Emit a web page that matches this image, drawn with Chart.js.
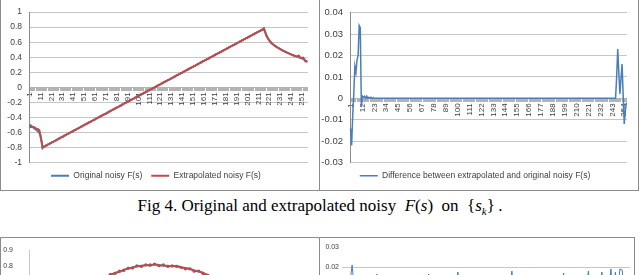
<!DOCTYPE html>
<html lang="en">
<head>
<meta charset="UTF-8">
<title>Fig 4</title>
<script src="https://cdn.jsdelivr.net/npm/chart.js"></script>
<style>
  html, body { margin: 0; padding: 0; background: #fff; width: 640px; height: 275px; overflow: hidden; }
  .panel { position: absolute; border-color: #8c8c8c; border-style: solid; border-width: 0; background: #fff; }
  .panel canvas { display: block; }
  #caption { position: absolute; left: 0; top: 196px; width: 640px; text-align: center;
    font: 17px "Liberation Serif", "Times New Roman", serif; color: #000; line-height: 19px; }
  #caption sub { font-size: 11px; }
</style>
</head>
<body>
  <div class="panel" style="left:0;top:0;width:318px;height:190px;border-left-width:1px;border-right-width:1px;border-bottom-width:1px;">
    <canvas id="topLeft" width="318" height="190"></canvas>
  </div>
  <div class="panel" style="left:320px;top:0;width:318px;height:190px;border-right-width:1px;border-bottom-width:1px;">
    <canvas id="topRight" width="318" height="190"></canvas>
  </div>
  <div id="caption">Fig 4. Original and extrapolated noisy&nbsp; <i>F</i>(<i>s</i>)&nbsp; on&nbsp; {<i>s</i><sub><i>k</i></sub>}&thinsp;.</div>
  <div class="panel" style="left:0;top:237px;width:318px;height:200px;border-left-width:1px;border-right-width:1px;border-top-width:1px;">
    <canvas id="bottomLeft" width="318" height="200"></canvas>
  </div>
  <div class="panel" style="left:320px;top:237px;width:314px;height:200px;border-right-width:1px;border-top-width:1px;">
    <canvas id="bottomRight" width="314" height="200"></canvas>
  </div>

<script>
// ---- data ----
const categories = Array.from({ length: 256 }, (_, i) => String(i + 1));

// original noisy F(s) on {s_k}
const originalF = [
  -0.495,-0.505,-0.518,-0.530,-0.542,-0.553,-0.564,-0.575,-0.590,-0.605,
  -0.640,-0.720,-0.805,-0.790,-0.787,-0.774,-0.771,-0.758,-0.755,-0.744,
  -0.740,-0.727,-0.724,-0.712,-0.709,-0.697,-0.693,-0.680,-0.678,-0.665,
  -0.657,-0.654,-0.641,-0.639,-0.626,-0.623,-0.611,-0.607,-0.595,-0.592,
  -0.584,-0.571,-0.568,-0.556,-0.553,-0.540,-0.537,-0.524,-0.522,-0.509,
  -0.506,-0.493,-0.491,-0.478,-0.475,-0.462,-0.459,-0.447,-0.444,-0.431,
  -0.429,-0.416,-0.413,-0.400,-0.398,-0.385,-0.382,-0.369,-0.366,-0.353,
  -0.351,-0.338,-0.335,-0.322,-0.320,-0.307,-0.304,-0.291,-0.288,-0.275,
  -0.273,-0.260,-0.257,-0.244,-0.242,-0.229,-0.226,-0.213,-0.210,-0.198,
  -0.195,-0.182,-0.179,-0.166,-0.164,-0.151,-0.148,-0.135,-0.133,-0.120,
  -0.117,-0.104,-0.101,-0.089,-0.086,-0.073,-0.070,-0.058,-0.055,-0.042,
  -0.039,-0.027,-0.024,-0.011,-0.008, 0.004, 0.007, 0.020, 0.023, 0.035,
   0.038, 0.051, 0.054, 0.067, 0.069, 0.082, 0.085, 0.098, 0.100, 0.113,
   0.116, 0.129, 0.131, 0.144, 0.147, 0.160, 0.162, 0.175, 0.178, 0.191,
   0.194, 0.206, 0.209, 0.222, 0.225, 0.237, 0.240, 0.253, 0.256, 0.268,
   0.271, 0.284, 0.287, 0.299, 0.302, 0.315, 0.318, 0.331, 0.333, 0.346,
   0.349, 0.362, 0.364, 0.377, 0.380, 0.393, 0.395, 0.408, 0.411, 0.424,
   0.426, 0.439, 0.442, 0.455, 0.457, 0.470, 0.473, 0.486, 0.488, 0.501,
   0.504, 0.517, 0.519, 0.532, 0.535, 0.548, 0.551, 0.563, 0.566, 0.579,
   0.582, 0.594, 0.597, 0.610, 0.613, 0.625, 0.628, 0.641, 0.644, 0.656,
   0.659, 0.672, 0.675, 0.687, 0.690, 0.703, 0.706, 0.719, 0.721, 0.734,
   0.737, 0.750, 0.752, 0.765, 0.768, 0.781, 0.745, 0.705, 0.672, 0.645,
   0.623, 0.605, 0.590, 0.577, 0.565, 0.555, 0.545, 0.535, 0.526, 0.517,
   0.508, 0.500, 0.492, 0.485, 0.477, 0.470, 0.463, 0.457, 0.450, 0.444,
   0.438, 0.432, 0.426, 0.420, 0.415, 0.410, 0.405, 0.400, 0.393, 0.388,
   0.383, 0.378, 0.370, 0.360, 0.348, 0.340
];

// extrapolated noisy F(s)
const extrapolatedF = [
  -0.509,-0.527,-0.526,-0.528,-0.527,-0.541,-0.546,-0.555,-0.556,-0.572,
  -0.644,-0.719,-0.805,-0.789,-0.787,-0.773,-0.771,-0.758,-0.755,-0.744,
  -0.740,-0.727,-0.724,-0.712,-0.709,-0.697,-0.693,-0.680,-0.678,-0.665,
  -0.657,-0.654,-0.641,-0.639,-0.626,-0.623,-0.611,-0.607,-0.595,-0.592,
  -0.584,-0.571,-0.568,-0.556,-0.553,-0.540,-0.537,-0.524,-0.522,-0.509,
  -0.506,-0.493,-0.491,-0.478,-0.475,-0.462,-0.459,-0.447,-0.444,-0.431,
  -0.429,-0.416,-0.413,-0.400,-0.398,-0.385,-0.382,-0.369,-0.366,-0.353,
  -0.351,-0.338,-0.335,-0.322,-0.320,-0.307,-0.304,-0.291,-0.288,-0.275,
  -0.273,-0.260,-0.257,-0.244,-0.242,-0.229,-0.226,-0.213,-0.210,-0.198,
  -0.195,-0.182,-0.179,-0.166,-0.164,-0.151,-0.148,-0.135,-0.133,-0.120,
  -0.117,-0.104,-0.101,-0.089,-0.086,-0.073,-0.070,-0.058,-0.055,-0.042,
  -0.039,-0.027,-0.024,-0.011,-0.008, 0.004, 0.007, 0.020, 0.023, 0.035,
   0.038, 0.051, 0.054, 0.067, 0.069, 0.082, 0.085, 0.098, 0.100, 0.113,
   0.116, 0.129, 0.131, 0.144, 0.147, 0.160, 0.162, 0.175, 0.178, 0.191,
   0.194, 0.206, 0.209, 0.222, 0.225, 0.237, 0.240, 0.253, 0.256, 0.268,
   0.271, 0.284, 0.287, 0.299, 0.302, 0.315, 0.318, 0.331, 0.333, 0.346,
   0.349, 0.362, 0.364, 0.377, 0.380, 0.393, 0.395, 0.408, 0.411, 0.424,
   0.426, 0.439, 0.442, 0.455, 0.457, 0.470, 0.473, 0.486, 0.488, 0.501,
   0.504, 0.517, 0.519, 0.532, 0.535, 0.548, 0.551, 0.563, 0.566, 0.579,
   0.582, 0.594, 0.597, 0.610, 0.613, 0.625, 0.628, 0.641, 0.644, 0.656,
   0.659, 0.672, 0.675, 0.687, 0.690, 0.703, 0.706, 0.719, 0.721, 0.734,
   0.737, 0.750, 0.752, 0.765, 0.768, 0.781, 0.745, 0.705, 0.672, 0.645,
   0.623, 0.605, 0.590, 0.577, 0.565, 0.555, 0.545, 0.535, 0.526, 0.517,
   0.508, 0.500, 0.492, 0.485, 0.477, 0.470, 0.463, 0.457, 0.450, 0.444,
   0.438, 0.432, 0.426, 0.420, 0.415, 0.410, 0.415, 0.423, 0.405, 0.390,
   0.392, 0.394, 0.372, 0.348, 0.342, 0.338
];

// difference between extrapolated and original
const differenceF = [
  -0.014,-0.022,-0.008, 0.002, 0.015, 0.012, 0.018, 0.020, 0.034, 0.033,
  -0.004, 0.001, 0.0005,0.001, 0,     0.001, 0,     0.0005,0,     0.0005,
   0, 0.0003, 0, 0, 0, 0, 0, 0, 0, 0,
   0, 0, 0, 0, 0, 0, 0, 0, 0, 0,
   0, 0, 0, 0, 0, 0, 0, 0, 0, 0,
   0, 0, 0, 0, 0, 0, 0, 0, 0, 0,
   0, 0, 0, 0, 0, 0, 0, 0, 0, 0,
   0, 0, 0, 0, 0, 0, 0, 0, 0, 0,
   0, 0, 0, 0, 0, 0, 0, 0, 0, 0,
   0, 0, 0, 0, 0, 0, 0, 0, 0, 0,
   0, 0, 0, 0, 0, 0, 0, 0, 0, 0,
   0, 0, 0, 0, 0, 0, 0, 0, 0, 0,
   0, 0, 0, 0, 0, 0, 0, 0, 0, 0,
   0, 0, 0, 0, 0, 0, 0, 0, 0, 0,
   0, 0, 0, 0, 0, 0, 0, 0, 0, 0,
   0, 0, 0, 0, 0, 0, 0, 0, 0, 0,
   0, 0, 0, 0, 0, 0, 0, 0, 0, 0,
   0, 0, 0, 0, 0, 0, 0, 0, 0, 0,
   0, 0, 0, 0, 0, 0, 0, 0, 0, 0,
   0, 0, 0, 0, 0, 0, 0, 0, 0, 0,
   0, 0, 0, 0, 0, 0, 0, 0, 0, 0,
   0, 0, 0, 0, 0, 0, 0, 0, 0, 0,
   0, 0, 0, 0, 0, 0, 0, 0, 0, 0,
   0, 0, 0, 0, 0, 0, 0, 0, 0, 0,
   0, 0, 0, 0, 0, 0, 0.010, 0.023, 0.012, 0.002,
   0.009, 0.016, 0.002,-0.012,-0.006,-0.002
];

const leftTicks = [-1, -0.8, -0.6, -0.4, -0.2, 0, 0.2, 0.4, 0.6, 0.8, 1];
const rightTicks = [-0.03, -0.02, -0.01, 0, 0.01, 0.02, 0.03, 0.04];

// next figure (only its top edge is visible)
const nextCategories = Array.from({ length: 64 }, (_, i) => String(i + 1));
const nextOriginal = [
  0.30, 0.33, 0.36, 0.39, 0.42, 0.45, 0.48, 0.51, 0.54, 0.57,
  0.60, 0.62, 0.64, 0.66, 0.68, 0.70, 0.71, 0.73, 0.74, 0.755,
  0.76, 0.775,0.78, 0.79, 0.795,0.80, 0.805,0.80, 0.81, 0.805,
  0.80, 0.80, 0.795,0.80, 0.79, 0.785,0.78, 0.77, 0.765,0.755,
  0.74, 0.73, 0.715,0.70, 0.68, 0.66, 0.64, 0.62, 0.60, 0.58,
  0.56, 0.54, 0.52, 0.50, 0.48, 0.46, 0.44, 0.42, 0.40, 0.38,
  0.36, 0.34, 0.32, 0.30
];
const nextExtrapolated = [
  0.30, 0.33, 0.36, 0.39, 0.42, 0.45, 0.48, 0.51, 0.54, 0.57,
  0.60, 0.62, 0.64, 0.66, 0.68, 0.70, 0.715,0.725,0.745,0.75,
  0.765,0.77, 0.785,0.785,0.80, 0.795,0.805,0.805,0.81, 0.80,
  0.805,0.795,0.80, 0.795,0.79, 0.78, 0.78, 0.765,0.765,0.75,
  0.74, 0.725,0.715,0.695,0.68, 0.66, 0.64, 0.62, 0.60, 0.58,
  0.56, 0.54, 0.52, 0.50, 0.48, 0.46, 0.44, 0.42, 0.40, 0.38,
  0.36, 0.34, 0.32, 0.30
];
const nextLeftTicks = [0, 0.1, 0.2, 0.3, 0.4, 0.5, 0.6, 0.7, 0.8, 0.9];

const nextDiffCategories = Array.from({ length: 128 }, (_, i) => String(i + 1));
const nextDifference = [
  0.004, 0.006, 0.008, 0.012, 0.021, 0.008, 0.005, 0.007, 0.004, 0.006,
  0.005, 0.008, 0.006, 0.004, 0.009, 0.0165,0.007, 0.005, 0.006, 0.004,
  0.006, 0.005, 0.007, 0.004, 0.006, 0.008, 0.005, 0.016, 0.006, 0.004,
  0.005, 0.007, 0.004, 0.006, 0.005, 0.008, 0.006, 0.004, 0.0165,0.006,
  0.005, 0.007, 0.004, 0.006, 0.008, 0.005, 0.004, 0.006, 0.007, 0.005,
  0.009, 0.0175,0.006, 0.004, 0.005, 0.007, 0.006, 0.004, 0.005, 0.008,
  0.006, 0.004, 0.007, 0.005, 0.006, 0.004, 0.008, 0.005, 0.006, 0.007,
  0.004, 0.006, 0.005, 0.007, 0.009, 0.018, 0.006, 0.004, 0.005, 0.007,
  0.006, 0.004, 0.005, 0.008, 0.006, 0.004, 0.007, 0.005, 0.006, 0.004,
  0.005, 0.007, 0.006, 0.004, 0.005, 0.008, 0.006, 0.009, 0.017, 0.005,
  0.006, 0.004, 0.007, 0.005, 0.006, 0.004, 0.008, 0.005, 0.009, 0.018,
  0.006, 0.004, 0.005, 0.007, 0.009, 0.0175,0.006, 0.008, 0.005, 0.019,
  0.007, 0.0175,0.006, 0.019, 0.0185,0.007, 0.005, 0.004
];
const nextRightTicks = [-0.01, 0, 0.01, 0.02, 0.03];

// ---- styling ----
const BLUE = '#4a7ebb';
const RED = '#be4b48';
const GRID = '#c6c6c6';
const AXIS = '#8c8c8c';
const TEXT = '#404040';
const FONT = '"Liberation Sans", Arial, sans-serif';

Chart.defaults.font.family = FONT;
Chart.defaults.color = TEXT;
Chart.defaults.animation = false;

function valueAxis(ticks, min, max, width, size) {
  return {
    min: min, max: max,
    afterBuildTicks: s => { s.ticks = ticks.map(v => ({ value: v })); },
    afterFit: s => { s.width = width; },
    grid: { color: GRID, drawTicks: false },
    border: { display: true, color: AXIS },
    ticks: { padding: 7, font: { size: size }, color: TEXT, callback: v => String(v) }
  };
}

function zeroAxis(step) {
  return {
    type: 'category',
    offset: true,
    position: { y: 0 },
    afterFit: s => { s.height = 0; },
    grid: { drawOnChartArea: false, drawTicks: true, tickLength: 3, color: '#b4b4b4' },
    border: { display: true, color: '#b4b4b4' },
    ticks: {
      autoSkip: false, minRotation: 90, maxRotation: 90, padding: 2,
      font: { size: 8 }, color: TEXT,
      callback: (v, i) => (i % step === 0 ? categories[i] : '')
    }
  };
}

const legendOpts = {
  position: 'bottom',
  labels: {
    usePointStyle: true, pointStyle: 'line', pointStyleWidth: 18,
    padding: 9, font: { size: 8.5 }, color: TEXT,
    sort: (a, b) => b.datasetIndex - a.datasetIndex
  }
};

new Chart(document.getElementById('topLeft'), {
  type: 'line',
  data: {
    labels: categories,
    datasets: [
      { label: 'Extrapolated noisy F(s)', data: extrapolatedF, borderColor: RED, backgroundColor: RED, borderWidth: 2, pointRadius: 0, tension: 0 },
      { label: 'Original noisy F(s)', data: originalF, borderColor: BLUE, backgroundColor: BLUE, borderWidth: 2, pointRadius: 0, tension: 0 }
    ]
  },
  options: {
    responsive: false,
    layout: { padding: { left: 0, right: 8, top: 10, bottom: 0 } },
    plugins: { legend: legendOpts, tooltip: { enabled: false } },
    scales: { x: zeroAxis(10), y: valueAxis(leftTicks, -1, 1, 28, 8.5) }
  }
});

new Chart(document.getElementById('topRight'), {
  type: 'line',
  data: {
    labels: categories,
    datasets: [
      { label: 'Difference between extrapolated and original noisy F(s)', data: differenceF, borderColor: BLUE, backgroundColor: BLUE, borderWidth: 1.5, pointRadius: 0, tension: 0 }
    ]
  },
  options: {
    responsive: false,
    layout: { padding: { left: 0, right: 8, top: 10, bottom: 0 } },
    plugins: { legend: legendOpts, tooltip: { enabled: false } },
    scales: { x: zeroAxis(11), y: valueAxis(rightTicks, -0.03, 0.04, 30, 9.5) }
  }
});

new Chart(document.getElementById('bottomLeft'), {
  type: 'line',
  data: {
    labels: nextCategories,
    datasets: [
      { label: 'Extrapolated', data: nextExtrapolated, borderColor: RED, backgroundColor: RED, borderWidth: 1.5, pointRadius: 1.6, pointBorderWidth: 0, tension: 0 },
      { label: 'Original', data: nextOriginal, borderColor: BLUE, backgroundColor: BLUE, borderWidth: 2, pointRadius: 0, tension: 0 }
    ]
  },
  options: {
    responsive: false,
    layout: { padding: { left: 0, right: 8, top: 8, bottom: 48 } },
    plugins: { legend: { display: false }, tooltip: { enabled: false } },
    scales: {
      x: { display: false, offset: true },
      y: {
        min: 0, max: 0.9,
        afterBuildTicks: s => { s.ticks = nextLeftTicks.map(v => ({ value: v })); },
        afterFit: s => { s.width = 28; },
        grid: { display: false },
        border: { display: true, color: '#c8c8c8' },
        ticks: { padding: 8, font: { size: 7 }, color: TEXT, callback: v => String(v) }
      }
    }
  }
});

new Chart(document.getElementById('bottomRight'), {
  type: 'line',
  data: {
    labels: nextDiffCategories,
    datasets: [
      { label: 'Difference', data: nextDifference, borderColor: BLUE, borderWidth: 1, pointRadius: 0, tension: 0 }
    ]
  },
  options: {
    responsive: false,
    layout: { padding: { left: 0, right: 4, top: 9, bottom: 111 } },
    plugins: { legend: { display: false }, tooltip: { enabled: false } },
    scales: {
      x: { display: false, offset: true },
      y: {
        min: -0.01, max: 0.03,
        afterBuildTicks: s => { s.ticks = nextRightTicks.map(v => ({ value: v })); },
        afterFit: s => { s.width = 22; },
        grid: { drawTicks: false, color: c => (c.tick && c.tick.value === 0.03 ? 'rgba(0,0,0,0)' : GRID) },
        border: { display: false },
        ticks: { padding: 3, font: { size: 7 }, color: TEXT, callback: v => String(v) }
      }
    }
  }
});
</script>
</body>
</html>
